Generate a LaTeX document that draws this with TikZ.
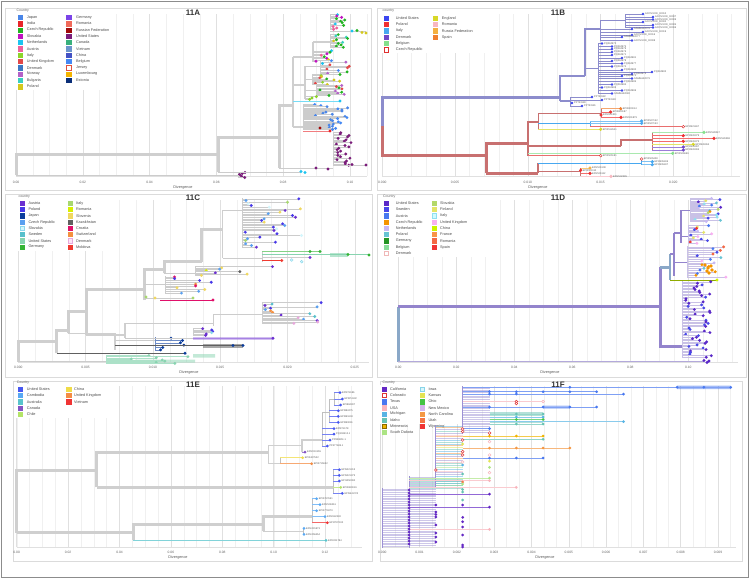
\documentclass[tikz,border=0pt]{standalone}
\usepackage{fontspec}
\setmainfont{Liberation Sans}
% ---- colours of 11A
\definecolor{aJapan}{HTML}{4A86E8}\definecolor{aIndia}{HTML}{E8262A}
\definecolor{aCzech}{HTML}{22B522}\definecolor{aSlovakia}{HTML}{C012C0}
\definecolor{aNetherlands}{HTML}{1CC4F0}\definecolor{aAustria}{HTML}{F0609A}
\definecolor{aItaly}{HTML}{8CD42A}\definecolor{aUK}{HTML}{E24848}
\definecolor{aDenmark}{HTML}{3B78C4}\definecolor{aNorway}{HTML}{B462C8}
\definecolor{aBulgaria}{HTML}{38D0C0}\definecolor{aPoland}{HTML}{D4C81E}
\definecolor{aGermany}{HTML}{7B44E8}\definecolor{aRomania}{HTML}{F06A5A}
\definecolor{aRussia}{HTML}{A00A0A}\definecolor{aUSA}{HTML}{7A1C7A}
\definecolor{aCanada}{HTML}{38B07C}\definecolor{aVietnam}{HTML}{6C94CC}
\definecolor{aChina}{HTML}{4452C4}\definecolor{aBelgium}{HTML}{4488F4}
\definecolor{aJersey}{HTML}{E05040}\definecolor{aLuxembourg}{HTML}{F4B400}
\definecolor{aEstonia}{HTML}{0A2E78}
% ---- colours of 11B
\definecolor{bUSA}{HTML}{3C46F0}\definecolor{bPoland}{HTML}{F03030}
\definecolor{bItaly}{HTML}{48A8F0}\definecolor{bDenmark}{HTML}{7048C8}
\definecolor{bBelgium}{HTML}{84E08C}\definecolor{bCzech}{HTML}{E03030}
\definecolor{bEngland}{HTML}{D8D828}\definecolor{bRomania}{HTML}{F8B8C0}
\definecolor{bRussia}{HTML}{F4B040}\definecolor{bSpain}{HTML}{F08030}
\definecolor{bTrunkP}{HTML}{8C8CCC}\definecolor{bTrunkR}{HTML}{C87070}
% ---- colours of 11C
\definecolor{cAustria}{HTML}{6A2ED0}\definecolor{cPoland}{HTML}{4838E8}
\definecolor{cJapan}{HTML}{0A3C9C}\definecolor{cCzech}{HTML}{5AA0F0}
\definecolor{cSlovakia}{HTML}{D4F6FC}\definecolor{cSlovakiaD}{HTML}{8CD8EC}
\definecolor{cSweden}{HTML}{58C0CC}\definecolor{cUSA}{HTML}{88D4B0}
\definecolor{cGermany}{HTML}{34B434}\definecolor{cItaly}{HTML}{A8D870}
\definecolor{cRomania}{HTML}{D8F000}\definecolor{cSlovenia}{HTML}{F0D860}
\definecolor{cKazakh}{HTML}{606060}\definecolor{cCroatia}{HTML}{E0106A}
\definecolor{cSwitz}{HTML}{F49040}\definecolor{cDenmark}{HTML}{FBE4F6}
\definecolor{cDenmarkD}{HTML}{E8A8DC}\definecolor{cMoldova}{HTML}{F03A30}
% ---- colours of 11D
\definecolor{dUSA}{HTML}{5A28C8}\definecolor{dSweden}{HTML}{4848E8}
\definecolor{dAustria}{HTML}{4878F0}\definecolor{dCzech}{HTML}{F49400}
\definecolor{dNetherlands}{HTML}{C8B8F4}\definecolor{dPoland}{HTML}{68C4D4}
\definecolor{dGermany}{HTML}{249424}\definecolor{dBelgium}{HTML}{88DC98}
\definecolor{dDenmark}{HTML}{F0B8B8}\definecolor{dSlovakia}{HTML}{B4D868}
\definecolor{dFinland}{HTML}{E4E468}\definecolor{dItaly}{HTML}{D0FAFF}
\definecolor{dItalyD}{HTML}{90E0F0}\definecolor{dUK}{HTML}{F8B0F0}
\definecolor{dChina}{HTML}{CCF400}\definecolor{dFrance}{HTML}{F89448}
\definecolor{dRomania}{HTML}{F46844}\definecolor{dSpain}{HTML}{F03434}
\definecolor{dTrunk}{HTML}{9384CC}\definecolor{dStem}{HTML}{8AA8C8}
% ---- colours of 11E
\definecolor{eUSA}{HTML}{4858F0}\definecolor{eCambodia}{HTML}{58A8F4}
\definecolor{eAustralia}{HTML}{58C4CC}\definecolor{eCanada}{HTML}{8454C4}
\definecolor{eChile}{HTML}{B4E468}\definecolor{eChina}{HTML}{F0DC48}
\definecolor{eUK}{HTML}{F48C44}\definecolor{eVietnam}{HTML}{F03434}
% ---- colours of 11F
\definecolor{fCalifornia}{HTML}{6428C4}\definecolor{fColorado}{HTML}{E03838}
\definecolor{fTexas}{HTML}{4878F0}\definecolor{fUSA}{HTML}{F8B4BC}
\definecolor{fMichigan}{HTML}{58B4E4}\definecolor{fIdaho}{HTML}{68C4B4}
\definecolor{fMinnesota}{HTML}{F0B400}\definecolor{fMinnesotaD}{HTML}{8A6A00}
\definecolor{fSouthDakota}{HTML}{ACE484}\definecolor{fIowa}{HTML}{D8F6FC}
\definecolor{fIowaD}{HTML}{88D4E8}\definecolor{fKansas}{HTML}{E4E454}
\definecolor{fOhio}{HTML}{44C444}\definecolor{fNewMexico}{HTML}{D4B4EC}
\definecolor{fNorthCarolina}{HTML}{F49844}\definecolor{fUtah}{HTML}{F47444}
\definecolor{fWyoming}{HTML}{F03434}\definecolor{fBand}{HTML}{9C90D4}

\tikzset{
  panelframe/.style={draw=black!14, line width=0.6pt},
  gmaj/.style={draw=black!12, line width=0.45pt},
  gmin/.style={draw=black!6, line width=0.4pt},
  ticklab/.style={font=\fontsize{3.3}{4}\selectfont, text=black!60, inner sep=0pt},
  axlab/.style={font=\fontsize{3.8}{4.5}\selectfont, text=black!65, inner sep=0pt},
  ptitle/.style={font=\bfseries\fontsize{8}{9}\selectfont, text=black!80, inner sep=0pt},
  leghead/.style={font=\fontsize{3.5}{4}\selectfont, text=black!60, anchor=west, inner sep=0pt},
  legtext/.style={font=\fontsize{3.8}{4.3}\selectfont, text=black!70, anchor=west, inner sep=0pt},
  trunk/.style={line width=3pt, draw=black!19},
  midline/.style={line width=1.5pt, draw=black!19},
  twig/.style={line width=0.45pt, draw=black!20},
  tiplab/.style={font=\fontsize{2.5}{3}\selectfont, text=black!65, anchor=west, inner sep=0.8pt},
  fband/.style={draw=fBand, line width=0.9pt, opacity=0.5},
  fstem/.style={draw=fBand, line width=1.1pt},
}

\pgfmathdeclarerandomlist{aTopA}{{aCzech}{aCzech}{aCzech}{aAustria}{aPoland}{aNetherlands}{aSlovakia}{aItaly}}
\pgfmathdeclarerandomlist{aTopB}{{aCzech}{aCzech}{aSlovakia}{aPoland}{aNetherlands}{aItaly}{aBulgaria}}
\pgfmathdeclarerandomlist{aTopC}{{aSlovakia}{aCzech}{aRussia}{aNetherlands}{aAustria}{aPoland}{aBulgaria}}
\pgfmathdeclarerandomlist{aMidA}{{aNetherlands}{aBelgium}{aUK}{aSlovakia}{aPoland}{aCzech}{aNorway}{aIndia}}
\pgfmathdeclarerandomlist{aMidB}{{aJapan}{aPoland}{aCzech}{aItaly}{aUK}{aBelgium}}
\pgfmathdeclarerandomlist{aMidC}{{aUK}{aIndia}{aCzech}{aPoland}{aRomania}{aNorway}}
\pgfmathdeclarerandomlist{aMidD}{{aCzech}{aSlovakia}{aItaly}}
\pgfmathdeclarerandomlist{aBl}{{aJapan}{aJapan}{aBelgium}}
\pgfmathdeclarerandomlist{aPu}{{aUSA}}
\pgfmathdeclarerandomlist{cL1}{{cAustria}{cAustria}{cPoland}{cCzech}{cItaly}{cSlovakia}{cSlovenia}{cPoland}}
\pgfmathdeclarerandomlist{cL2}{{cRomania}{cKazakh}{cCzech}{cSlovenia}{cAustria}}
\pgfmathdeclarerandomlist{cL3}{{cPoland}{cCroatia}{cSlovenia}{cSlovenia}{cCzech}{cSwitz}}
\pgfmathdeclarerandomlist{cL4}{{cSweden}{cSweden}{cPoland}{cAustria}{cCzech}{cSwitz}{cDenmarkD}}
\pgfmathdeclarerandomlist{cL5}{{cAustria}{cPoland}{cSlovakiaD}}
\pgfmathdeclarerandomlist{cL6}{{cJapan}}
\pgfmathdeclarerandomlist{cL7}{{cUSA}}
\pgfmathdeclarerandomlist{dL1}{{dUSA}{dSweden}{dAustria}{dAustria}{dPoland}{dNetherlands}{dItalyD}{dFinland}{dSlovakia}{dUK}{dCzech}}
\pgfmathdeclarerandomlist{dL2}{{dSweden}{dAustria}{dNetherlands}{dGermany}{dSpain}{dUK}{dPoland}{dFinland}}
\pgfmathdeclarerandomlist{dL3}{{dSweden}{dAustria}{dNetherlands}{dPoland}{dCzech}{dRomania}{dUK}}
\pgfmathdeclarerandomlist{dPu}{{dUSA}{dUSA}{dUSA}{dSweden}}
\pgfmathdeclarerandomlist{fMix}{{fBand}{fBand}{fSouthDakota}{fIdaho}{fUSA}{fKansas}{fNorthCarolina}{fMichigan}}

% legend column: swatch x, text x, first y, step, list fill/draw/text
\newcommand\legcol[5]{%
  \foreach \fil/\drw/\txt [count=\i from 0] in {#5}{%
    \filldraw[fill=\fil, draw=\drw, line width=0.5pt]
      (#1-2.15,#3+#4*\i-2.15) rectangle (#1+2.15,#3+#4*\i+2.15);
    \node[legtext] at (#2,#3+#4*\i) {\txt};}}
% a bundle of tips: colour list, stem x, y top, y bottom, x min, x max, tips, branch colour
\newcommand\clade[8]{%
  \draw[twig, draw=#8] (#2,#3) -- (#2,#4);
  \foreach \k in {1,...,#7}{%
    \pgfmathsetmacro\yy{#3+(\k-0.5)*(#4-#3)/#7}%
    \pgfmathsetmacro\xx{#5+rnd*(#6-#5)}%
    \pgfmathrandomitem{\tc}{#1}%
    \draw[twig, draw=#8] (#2,\yy) -- (\xx,\yy);
    \fill[\tc] (\xx,\yy) circle (1.6);}}
\newcommand\fc[1]{382.3+26.8*#1}

\begin{document}
\begin{tikzpicture}[x=1pt,y=-1pt]
\pgfmathsetseed{11}
\useasboundingbox (0,0) rectangle (750,579);
\fill[white] (0,0) rectangle (750,579);
\draw[black!45, line width=0.7pt] (1.5,1) rectangle (748.5,577.5);

% ================= 11A =================
\draw[panelframe] (5,8) rectangle (371,190);
\foreach \k in {0,...,21} \draw[gmin] (16+16.7*\k,14) -- (16+16.7*\k,176);
\foreach \t [count=\i from 0] in {0.00,0.02,0.04,0.06,0.08,0.10}{
  \draw[gmaj] (16+66.8*\i,14) -- (16+66.8*\i,176);
  \node[ticklab] at (16+66.8*\i,182) {\t};}
\draw[gmaj] (16,176) -- (367,176);
\node[axlab] at (183,187.3) {Divergence};
\node[ptitle] at (193,12.7) {11A};
\fill[white] (14,9) rectangle (112,90);
\node[leghead] at (16.5,10.7) {Country};
\legcol{20.5}{26.7}{17.3}{6.3}{aJapan/aJapan/Japan, aIndia/aIndia/India, aCzech/aCzech/Czech Republic,
  aSlovakia/aSlovakia/Slovakia, aNetherlands/aNetherlands/Netherlands, aAustria/aAustria/Austria,
  aItaly/aItaly/Italy, aUK/aUK/United Kingdom, aDenmark/aDenmark/Denmark, aNorway/aNorway/Norway,
  aBulgaria/aBulgaria/Bulgaria, aPoland/aPoland/Poland}
\legcol{68.8}{76}{17.3}{6.3}{aGermany/aGermany/Germany, aRomania/aRomania/Romania,
  aRussia/aRussia/Russian Federation, aUSA/aUSA/United States, aCanada/aCanada/Canada,
  aVietnam/aVietnam/Vietnam, aChina/aChina/China, aBelgium/aBelgium/Belgium, white/aJersey/Jersey,
  aLuxembourg/aLuxembourg/Luxembourg, aEstonia/aEstonia/Estonia}
% tree
\draw[trunk] (16,175) -- (16,154) -- (218,154);
\draw[twig] (16,175) -- (238,175);
\clade{aPu}{238}{172}{178}{239}{248}{6}{black!20}
\draw[trunk] (218,172) -- (218,137) -- (279,137);
\draw[twig] (218,172) -- (301,172);
\fill[aNetherlands] (301,171.5) circle (1.6) (305,172.5) circle (1.6);
\draw[trunk] (279,168) -- (279,105) -- (293,105);
\draw[midline] (293,57) -- (293,127);
\draw[twig] (279,168) -- (333,168);
\clade{aPu}{333}{132}{166}{335}{352}{24}{black!20}
\draw[twig] (333,165) -- (366,165);
\fill[aUSA] (316,168) circle (1.6) (328,169) circle (1.6) (352,164.5) circle (1.6) (366,165) circle (1.6);
\draw[midline] (293,57) -- (313,57);
\draw[midline] (313,42) -- (313,62);
\draw[midline] (313,42) -- (330,42);
\clade{aTopA}{330}{14}{30}{333}{348}{12}{black!20}
\draw[twig] (330,31.5) -- (366,31.5);
\fill[aNetherlands] (352,31) circle (1.6); \fill[aCzech] (357,30.5) circle (1.6);
\fill[aPoland] (362,32.5) circle (1.6) (366,33) circle (1.6);
\clade{aTopB}{330}{34}{48}{333}{350}{11}{black!20}
\clade{aTopC}{313}{50}{62}{316}{332}{8}{black!20}
\draw[midline] (293,85) -- (305,85);
\draw[midline] (305,66) -- (305,99);
\draw[twig] (305,66) -- (320,66);
\clade{aMidA}{320}{60}{74}{322}{350}{10}{black!20}
\draw[twig] (305,79) -- (312,79);
\clade{aMidB}{312}{74}{85}{315}{346}{10}{black!20}
\draw[twig] (305,90) -- (316,90);
\clade{aMidC}{316}{85}{96}{319}{350}{10}{black!20}
\clade{aMidD}{305}{96}{100}{307}{318}{3}{black!20}
\draw[twig, draw=aNetherlands!60] (293,101) -- (340,101);
\fill[aNetherlands] (340,101) circle (1.6);
\draw[midline] (293,127) -- (303,127);
\clade{aBl}{303}{104}{130}{312}{348}{24}{black!20}
\draw[twig, draw=aIndia!60] (303,131) -- (330,131);
\fill[aRussia] (320,128) circle (1.6); \fill[aIndia] (330,131) circle (1.6);

% ================= 11B =================
\draw[panelframe] (377,8) rectangle (746,190);
\foreach \k in {0,...,24} \draw[gmin] (382.3+14.55*\k,14) -- (382.3+14.55*\k,176);
\foreach \t [count=\i from 0] in {0.000,0.005,0.010,0.015,0.020}{
  \draw[gmaj] (382.3+72.75*\i,14) -- (382.3+72.75*\i,176);
  \node[ticklab] at (382.3+72.75*\i,182) {\t};}
\draw[gmaj] (382.3,176) -- (740,176);
\node[axlab] at (538,187.3) {Divergence};
\node[ptitle] at (558,12.7) {11B};
\fill[white] (380,9) rectangle (490,53);
\node[leghead] at (382.5,10.7) {country};
\legcol{386}{395.7}{18.3}{6.27}{bUSA/bUSA/United States, bPoland/bPoland/Poland, bItaly/bItaly/Italy,
  bDenmark/bDenmark/Denmark, bBelgium/bBelgium/Belgium, white/bCzech/Czech Republic}
\legcol{435}{441.7}{18.3}{6.27}{bEngland/bEngland/England, bRomania/bRomania/Romania,
  bRussia/bRussia/Russia Federation, bSpain/bSpain/Spain}
% tree
\draw[trunk, draw=bTrunkP] (382.3,126) -- (382.3,97) -- (560,97);
\draw[trunk, draw=bTrunkR] (382.3,126) -- (382.3,155) -- (486,155);
\draw[trunk, draw=bTrunkP, line width=1.8pt] (560,101) -- (560,76) -- (585,76);
\draw[midline, draw=bTrunkP] (585,76) -- (585,29) -- (600,29);
\draw[twig, draw=bTrunkP, line width=1pt] (600,20) -- (600,40.5) (600,20) -- (625,20) (625,14) -- (625,27.5);
\draw[twig, draw=bTrunkP, line width=1pt] (585,68) -- (598,68) (598,43.5) -- (598,93.5);
\draw[midline, draw=bTrunkP] (560,101) -- (570,101);
\draw[twig, draw=bTrunkP, line width=1pt] (570,97) -- (570,106);
\foreach \p/\x/\y/\l in {625/643/14/ACOV1000\_00010, 625/653/17/ACOV1000\_00007,
  625/653/19.5/ACOV1000\_00009, 625/643/22/ACOV1000\_00002, 625/653/25/ACOV1000\_00005,
  625/653/27.5/ACOV1000\_00006, 600/632/29/SAMEA42076, 600/643/32/ACOV1000\_00019,
  600/632/35/ACOV1000\_00016, 600/622/37/SAMEA42077, 600/632/40.5/ACOV1000\_00008,
  598/602/43.5/PQ034970, 598/612/46.5/PQ034975, 598/612/49/PQ034979, 598/612/52/PQ034976,
  598/612/55/PQ034971, 598/622/58/PQ034981, 598/612/61/PQ034978, 598/622/63.5/PQ034977,
  598/612/66.5/PQ034974, 598/622/70/PQ034980, 598/652/72/PQ034982, 598/632/74/PQ034973,
  598/622/76/PQ034972, 598/632/78.5/SAMEA42079, 598/622/81.5/PQ034985, 598/612/84.5/PQ034984,
  598/602/87.5/PQ034983, 598/622/90.5/PQ034986, 598/612/93.5/SAMEA42080,
  570/592/97/PP733182, 570/602/100/PP733183, 570/572/103/PP733180, 570/582/106/PP733181}{
  \draw[twig, draw=bTrunkP, line width=0.6pt] (\p,\y) -- (\x,\y);
  \fill[bUSA] (\x,\y) circle (1.4);
  \node[tiplab] at (\x+1.2,\y) {\l};}
\draw[trunk, draw=bTrunkR] (486,173) -- (486,143) -- (528,143);
\draw[midline, draw=bTrunkR] (528,156) -- (528,122) -- (538,122);
\draw[twig, draw=bTrunkR, line width=1pt] (538,113) -- (538,129.3);
\draw[twig, draw=bTrunkR, line width=0.6pt] (538,113) -- (601,113) (601,108.7) -- (601,117.3);
\draw[twig, draw=bItaly, line width=0.6pt] (538,123) -- (590,123) (590,121) -- (590,126.7);
\draw[trunk, draw=bTrunkR, line width=2pt] (528,146) -- (621,146);
\draw[midline, draw=bTrunkR] (621,146) -- (621,140) -- (652,140);
\draw[twig, draw=bTrunkR, line width=1pt] (652,132.3) -- (652,150);
\draw[trunk, draw=bTrunkR] (486,173) -- (538,173);
\draw[midline, draw=bTrunkR] (538,163) -- (538,173);
\draw[twig, draw=bItaly, line width=0.6pt] (538,163) -- (641.7,163) (641.7,159) -- (641.7,164.7);
\draw[twig, draw=bTrunkR, line width=0.6pt] (538,171) -- (580.7,171) (580.7,168) -- (580.7,176.3);
\foreach \p/\x/\y/\c/\f/\l in {601/620.7/108.7/bSpain/bSpain/EPI2800014,
  601/610.7/112/bPoland/bPoland/EPI2800187, 601/601/115/bPoland/bPoland/EPI2801311,
  601/621/117.3/bPoland/bPoland/EPI2801879, 590/641.7/121/bItaly/bItaly/EPI2527152,
  590/641.7/123.3/bItaly/bItaly/EPI2527153, 590/683.3/126.7/bCzech/white/EPI2521467,
  538/600.7/129.3/bEngland/bEngland/EPI2512641, 652/704/132.3/bBelgium/bBelgium/EPI2528047,
  652/683.3/135.7/bPoland/bPoland/EPI2526379, 652/714/138.3/bPoland/bPoland/EPI2526368,
  652/683.3/141.3/bPoland/bPoland/EPI2526373, 652/693.3/144.3/bEngland/bEngland/EPI2526364,
  652/683.3/147/bDenmark/bDenmark/EPI2526367, 652/683.3/150/bDenmark/bDenmark/EPI2526365,
  528/672.7/153.3/bBelgium/bBelgium/EPI2526666, 528/600.7/155.7/bCzech/white/EPI2505181,
  641.7/641.7/159/bCzech/white/EPI2505408, 641.7/652.3/161.7/bItaly/bItaly/EPI2505406,
  641.7/652.3/164.7/bItaly/bItaly/EPI2505407, 580.7/590/168/bRussia/bRussia/EPI2501108,
  580.7/580.7/170.3/bPoland/bPoland/EPI2501110, 580.7/590/173.3/bPoland/bPoland/EPI2501112,
  580.7/611/176.3/bRomania/bRomania/EPI2502295}{
  \draw[twig, draw=\c!70, line width=0.6pt] (\p,\y) -- (\x,\y);
  \filldraw[fill=\f, draw=\c, line width=0.45pt] (\x,\y) circle (1.4);
  \node[tiplab] at (\x+1.2,\y) {\l};}

% ================= 11C =================
\draw[panelframe] (5,194) rectangle (372,377);
\foreach \k in {0,...,20} \draw[gmin] (18.3+16.83*\k,200) -- (18.3+16.83*\k,362);
\foreach \t [count=\i from 0] in {0.000,0.005,0.010,0.015,0.020,0.025}{
  \draw[gmaj] (18.3+67.3*\i,200) -- (18.3+67.3*\i,362);
  \node[ticklab] at (18.3+67.3*\i,367.7) {\t};}
\draw[gmaj] (18.3,362) -- (369,362);
\node[axlab] at (189,372.7) {Divergence};
\node[ptitle] at (193,198) {11C};
\fill[white] (14,199) rectangle (112,251);
\node[leghead] at (18.3,196.5) {country};
\legcol{22}{28.3}{203.3}{6.25}{cAustria/cAustria/Austria, cPoland/cPoland/Poland, cJapan/cJapan/Japan,
  cCzech/cCzech/Czech Republic, cSlovakia/cSlovakiaD/Slovakia, cSweden/cSweden/Sweden,
  cUSA/cUSA/United States, cGermany/cGermany/Germany}
\legcol{70}{76}{203.3}{6.25}{cItaly/cItaly/Italy, cRomania/cRomania/Romania, cSlovenia/cSlovenia/Slovenia,
  cKazakh/cKazakh/Kazakhstan, cCroatia/cCroatia/Croatia, cSwitz/cSwitz/Switzerland,
  cDenmark/cDenmarkD/Denmark, cMoldova/cMoldova/Moldova}
% tree
\draw[trunk] (18.3,361.7) -- (18.3,341.7) -- (56.7,341.7);
\draw[twig] (18.3,361.7) -- (106.7,361.7);
\fill[cUSA, opacity=0.5] (193,354) rectangle (215,357.5) (135,359.5) rectangle (195,362.5);
\clade{cL7}{106.7}{355}{364}{130}{215}{8}{cUSA!70}
\draw[trunk] (56.7,353.3) -- (56.7,330) -- (68.3,330);
\draw[twig, draw=cKazakh, line width=0.8pt] (56.7,353.3) -- (185,353.3);
\fill[cJapan] (185,353.3) circle (1.6);
\draw[trunk] (68.3,333.3) -- (68.3,311.7) -- (86,311.7);
\draw[midline] (68.3,333.3) -- (115,333.3) -- (115,350);
\draw[twig] (115,340) -- (155,340);
\clade{cL6}{155}{337}{351}{158}{186}{6}{cJapan!60}
\fill[cKazakh, opacity=0.55] (203,343.5) rectangle (243,347.5);
\draw[twig, draw=cKazakh] (115,345.5) -- (243,345.5);
\fill[cJapan] (233,345.5) circle (1.6) (243,345.5) circle (1.6);
\draw[trunk] (86,335) -- (86,289.3) -- (144,289.3);
\draw[trunk] (144,300) -- (144,269) -- (164.3,269);
\draw[trunk] (164.3,273.3) -- (164.3,261.7) -- (201.7,261.7);
\draw[trunk] (201.7,261.7) -- (201.7,229.3) -- (222.7,229.3);
\draw[midline] (222.7,210) -- (222.7,258);
\draw[twig] (222.7,210) -- (242,210);
\clade{cL1}{242}{198}{248}{245}{302}{30}{black!20}
\draw[twig] (222.7,258) -- (262,258) (262,251.5) -- (262,261.7);
\draw[twig, draw=cGermany!60] (262,251.5) -- (320,251.5);
\fill[cUSA, opacity=0.6] (330,252.5) rectangle (348,256.5);
\draw[twig, draw=cUSA] (262,254.5) -- (369,254.5);
\fill[cGermany] (310,251.5) circle (1.6) (320,251.5) circle (1.6) (348,254.5) circle (1.6) (369,255) circle (1.6);
\draw[twig] (262,257.5) -- (310,257.5);
\fill[cAustria] (310,257.5) circle (1.6);
\draw[twig, draw=cMoldova] (262,260.5) -- (281.7,260.5);
\fill[cMoldova] (281.7,260.5) circle (1.6);
\filldraw[fill=cSlovakia, draw=cSlovakiaD, line width=0.45pt] (291.7,260) circle (1.4) (301.7,261.7) circle (1.4);
\draw[twig] (164.3,273.3) -- (195,273.3);
\clade{cL2}{195}{266}{276}{198}{276}{8}{black!20}
\draw[twig] (144,284) -- (165,284);
\clade{cL3}{165}{276}{294}{172}{214}{10}{black!20}
\draw[twig] (144,298) -- (193,298);
\draw[twig, draw=cCroatia] (160,300) -- (213,300);
\fill[cItaly] (146,297) circle (1.6) (193,298) circle (1.6);
\fill[cSlovenia] (155,298) circle (1.6); \fill[cCroatia] (213,300) circle (1.6);
\draw[midline] (86,335) -- (125,335);
\draw[midline] (125,323.3) -- (125,338.3);
\draw[twig] (125,323.3) -- (213,323.3) (213,314) -- (213,326) (213,314) -- (262,314);
\clade{cL4}{262}{302}{324}{265}{322}{16}{black!20}
\draw[twig] (125,338.3) -- (193,338.3);
\clade{cL5}{193}{328}{336}{195}{214}{6}{black!20}
\fill[cAustria, opacity=0.3] (193,336.6) rectangle (273,340);
\draw[twig, draw=cAustria!60] (193,338.3) -- (273,338.3);
\fill[cAustria] (273,338.3) circle (1.6);

% ================= 11D =================
\draw[panelframe] (377,194) rectangle (746,377);
\foreach \k in {0,...,23} \draw[gmin] (398.3+14.5*\k,200) -- (398.3+14.5*\k,362);
\foreach \t [count=\i from 0] in {0.00,0.02,0.04,0.06,0.08,0.10}{
  \draw[gmaj] (398.3+58*\i,200) -- (398.3+58*\i,362);
  \node[ticklab] at (398.3+58*\i,367.7) {\t};}
\draw[gmaj] (398.3,362) -- (738,362);
\node[axlab] at (550,372.7) {Divergence};
\node[ptitle] at (558,198) {11D};
\fill[white] (380,199) rectangle (486,257);
\node[leghead] at (383,196.5) {Country};
\legcol{386}{395.7}{203.3}{6.25}{dUSA/dUSA/United States, dSweden/dSweden/Sweden, dAustria/dAustria/Austria,
  dCzech/dCzech/Czech Republic, dNetherlands/dNetherlands/Netherlands, dPoland/dPoland/Poland,
  dGermany/dGermany/Germany, dBelgium/dBelgium/Belgium, white/dDenmark/Denmark}
\legcol{434.5}{440}{203.3}{6.25}{dSlovakia/dSlovakia/Slovakia, dFinland/dFinland/Finland,
  dItaly/dItalyD/Italy, dUK/dUK/United Kingdom, dChina/dChina/China, dFrance/dFrance/France,
  dRomania/dRomania/Romania, dSpain/dSpain/Spain}
% tree
\draw[trunk, draw=dStem] (398.3,361.7) -- (398.3,306.7);
\draw[trunk, draw=dTrunk] (398.3,306.7) -- (660,306.7);
\draw[twig, draw=dTrunk!70] (398.3,361.7) -- (704,361.7);
\fill[dUSA] (704,360.5) circle (1.6) (707,362.5) circle (1.6) (709,361) circle (1.6);
\draw[trunk, draw=dTrunk] (660,267) -- (660,346.7) -- (682,346.7);
\draw[trunk, draw=dStem] (660,267) -- (670,267);
\draw[midline, draw=dStem] (670,254) -- (670,280);
\draw[twig, draw=dChina!70!black] (670,280) -- (717,280);
\fill[dChina] (717,280) circle (1.6);
\draw[midline, draw=dTrunk] (670,254) -- (674,254) (674,233) -- (674,276) (674,233) -- (681,233) (681,210) -- (681,243);
\draw[twig, draw=dTrunk] (681,210) -- (690,210);
\clade{dL1}{690}{198}{222}{694}{725}{22}{dTrunk!50}
\draw[twig, draw=dTrunk] (681,236) -- (688,236);
\clade{dL2}{688}{225}{244}{690}{712}{14}{dTrunk!50}
\draw[twig, draw=dTrunk] (674,262) -- (687,262);
\clade{dL3}{687}{246}{278}{690}{735}{18}{dTrunk!50}
\foreach \x/\y in {705/265,708/268,711/266,707/271,712/270,709/273}
  \fill[dCzech] (\x,\y) circle (1.9);
\clade{dPu}{682}{281}{358}{685}{712}{50}{dTrunk!50}

% ================= 11E =================
\draw[panelframe] (13,381) rectangle (372,561);
\foreach \k in {0,...,26} \draw[gmin] (16.7+12.85*\k,386) -- (16.7+12.85*\k,547);
\foreach \t [count=\i from 0] in {0.00,0.02,0.04,0.06,0.08,0.10,0.12}{
  \draw[gmaj] (16.7+51.4*\i,386) -- (16.7+51.4*\i,547);
  \node[ticklab] at (16.7+51.4*\i,552.7) {\t};}
\draw[gmaj] (16.7,547) -- (362,547);
\node[axlab] at (178,557.7) {Divergence};
\node[ptitle] at (193,384.5) {11E};
\fill[white] (14,385) rectangle (112,418);
\node[leghead] at (16.7,382.7) {Country};
\legcol{20.5}{26.7}{389.3}{6.25}{eUSA/eUSA/United States, eCambodia/eCambodia/Cambodia,
  eAustralia/eAustralia/Australia, eCanada/eCanada/Canada, eChile/eChile/Chile}
\legcol{68.8}{74}{389.3}{6.25}{eChina/eChina/China, eUK/eUK/United Kingdom, eVietnam/eVietnam/Vietnam}
% tree
\draw[trunk] (16.7,532.7) -- (16.7,470) -- (96.7,470);
\draw[trunk] (96.7,487.3) -- (96.7,452) -- (268.3,452);
\draw[trunk] (96.7,487.3) -- (333,487.3);
\draw[midline] (268.3,463.7) -- (268.3,445.7) -- (302,445.7);
\draw[midline] (302,452) -- (302,440) -- (322,440);
\draw[twig, draw=black!25, line width=1pt] (322,412) -- (322,446) (322,412) -- (329,412) (329,399) -- (329,422.3) (329,399) -- (334,399) (334,392.7) -- (334,405);
\draw[midline] (268.3,463.7) -- (280,463.7);
\draw[twig, draw=black!25, line width=1pt] (280,457.7) -- (280,463.7) (333,469.7) -- (333,493.3);
\draw[trunk] (16.7,532.7) -- (133.3,532.7);
\draw[trunk] (133.3,540.3) -- (133.3,524) -- (263.3,524);
\draw[trunk] (263.3,531.3) -- (263.3,516) -- (312,516);
\draw[midline] (263.3,531.3) -- (303,531.3);
\draw[twig, draw=black!25, line width=1pt] (312,498.7) -- (312,522.7) (303,528.3) -- (303,534.3);
\foreach \p/\x/\y/\c/\l in {334/340/392.7/eUSA/EPI874186, 334/342.3/399/eUSA/EPI874132,
  334/340.7/405/eUSA/EPI884307, 329/338.3/410.7/eUSA/EPI882475, 329/338.3/416.3/eUSA/EPI891603,
  329/338.3/422.3/eUSA/EPI890091, 322/334/428.7/eUSA/EPI874178, 322/334/434/eUSA/PQ106510.1,
  322/330/440/eUSA/PP836851.1, 322/327.3/446/eUSA/PP477845.1, 302/305/452/eCanada/EPI2010155,
  280/302.7/457.7/eChina/EPI2407502, 280/311.7/463.7/eUK/EPI2715622,
  333/339.3/469.7/eUSA/EPI5021313, 333/339.3/475.3/eUSA/EPI5021373, 333/339.3/481/eUSA/EPI1050090,
  333/340.7/487.3/eChile/EPI2680016, 333/342.3/493.3/eUSA/EPI5541722,
  312/316.7/498.7/eCambodia/EPI2767661, 312/320/504.7/eCambodia/EPI2506261,
  312/316.7/510.7/eCambodia/EPI2773470, 312/325/516.7/eCambodia/EPI2642230,
  312/327.3/522.7/eVietnam/EPI2787100, 303/304/528.3/eCambodia/EPI2415973,
  303/304/534.3/eCambodia/EPI2456454, 133.3/326/540.3/eAustralia/EPI3211784}{
  \draw[twig, draw=\c!75, line width=0.7pt] (\p,\y) -- (\x,\y);
  \fill[\c] (\x,\y) circle (1.5);
  \node[tiplab] at (\x+1.2,\y) {\l};}

% ================= 11F =================
\draw[panelframe] (380,381) rectangle (742,561);
\foreach \k in {0,...,28} \draw[gmin] (382.3+12.43*\k,386) -- (382.3+12.43*\k,547);
\foreach \t [count=\i from 0] in {0.000,0.001,0.002,0.003,0.004,0.005,0.006,0.007,0.008,0.009}{
  \draw[gmaj] (382.3+37.3*\i,386) -- (382.3+37.3*\i,547);
  \node[ticklab] at (382.3+37.3*\i,552.7) {\t};}
\draw[gmaj] (382.3,547) -- (736,547);
\node[axlab] at (545,557.7) {Divergence};
\node[ptitle] at (558,384.5) {11F};
\fill[white] (380,385) rectangle (472,424);
\node[leghead] at (382.3,382.7) {Country};
\legcol{384.5}{390}{389.3}{6.15}{fCalifornia/fCalifornia/California, white/fColorado/Colorado,
  fTexas/fTexas/Texas, fUSA/fUSA/USA, fMichigan/fMichigan/Michigan, fIdaho/fIdaho/Idaho,
  fMinnesota/fMinnesotaD/Minnesota, fSouthDakota/fSouthDakota/South Dakota}
\legcol{422.5}{428.3}{389.3}{6.15}{fIowa/fIowaD/Iowa, fKansas/fKansas/Kansas, fOhio/fOhio/Ohio,
  fNewMexico/fNewMexico/New Mexico, fNorthCarolina/fNorthCarolina/North Carolina,
  fUtah/fUtah/Utah, fWyoming/fWyoming/Wyoming}
% tree
\foreach \y in {489,490.8,...,547} \draw[fband] (\fc{0},\y) -- (\fc{1},\y);
\foreach \y in {477,478.8,...,547} \draw[fband] (\fc{1},\y) -- (\fc{2},\y);
\foreach \y in {426,427.8,...,488}{\pgfmathrandomitem{\tc}{fMix}\draw[fband, draw=\tc] (\fc{2},\y) -- (\fc{3},\y);}
\foreach \y in {387,388.8,...,433} \draw[fband] (\fc{3},\y) -- (\fc{4},\y);
\foreach \y in {412,413.8,...,426} \draw[fband, draw=fIdaho] (\fc{4},\y) -- (\fc{6},\y);
\foreach \y in {478,479.8,...,490} \draw[fband, draw=fIdaho] (\fc{1},\y) -- (\fc{3},\y);
\fill[fTexas, opacity=0.5] (\fc{11},385.6) rectangle (\fc{13},389) (\fc{6},405.5) rectangle (\fc{7},408.5);
\foreach \x/\a/\b in {0/488/548, 1/476/548, 2/425/488, 3/386/434}
  \draw[fstem] (\fc{\x},\a) -- (\fc{\x},\b);
\foreach \y/\a/\b/\c in {387.3/3/13/fTexas, 391.7/3/8/fTexas, 394/3/9/fTexas, 401.5/3/6/fUSA,
  407/3/8/fTexas, 414/4/6/fIdaho, 417/4/6/fMichigan, 419.5/4/6/fOhio, 421.7/4/9/fMichigan,
  424/4/6/fIdaho, 428.5/3/4/fTexas, 436/3/6/fMinnesota, 439.3/3/6/fIdaho, 448/3/7/fNorthCarolina,
  458/3/6/fTexas, 478/1/4/fSouthDakota, 480.5/1/4/fUSA, 487.3/1/5/fUSA, 494/1/4/fCalifornia,
  507/1/4/fCalifornia, 529.3/1/4/fUSA}{
  \draw[twig, draw=\c!70, line width=0.6pt] (\fc{\a},\y) -- (\fc{\b},\y);
  \fill[\c] (\fc{\b},\y) circle (1.5);}
\foreach \y/\k/\c in {391.7/4/fTexas, 391.7/5/fTexas, 391.7/6/fTexas, 391.7/7/fTexas,
  387.3/7/fTexas, 387.3/11/fTexas, 387.3/12/fTexas, 394/4/fTexas, 394/5/fTexas, 407/4/fTexas,
  407/6/fTexas, 407/7/fTexas, 414/5/fIdaho, 417/5/fMichigan, 419.5/5/fOhio, 424/5/fIdaho,
  436/4/fMinnesota, 436/5/fMinnesota, 448/4/fNorthCarolina, 448/5/fNorthCarolina,
  448/6/fNorthCarolina, 458/4/fTexas, 458/5/fTexas, 461/4/fKansas, 467.3/4/fSouthDakota,
  482/3/fUtah, 489.5/3/fIdaho, 492/3/fIdaho, 500/3/fIdaho, 505/2/fCalifornia, 505/3/fCalifornia,
  517.3/3/fCalifornia, 521.7/3/fCalifornia, 525/2/fCalifornia, 527/3/fCalifornia,
  533/2/fCalifornia, 535/3/fCalifornia, 537/2/fCalifornia, 542/2/fCalifornia,
  545/3/fCalifornia, 547/3/fCalifornia, 512/2/fCalifornia, 514.5/2/fCalifornia,
  517/2/fCalifornia, 484/3/fSouthDakota, 444/3/fKansas, 465/3/fMichigan, 474/3/fIdaho}
  \fill[\c] (\fc{\k},\y) circle (1.5);
\foreach \y in {490,493,...,546} \fill[fCalifornia] (\fc{1},\y) circle (1.4);
\foreach \y/\k/\c in {401.5/5/fColorado, 403.5/5/fColorado, 401.5/6/fUSA, 431.5/3/fColorado,
  433/4/fColorado, 441.7/4/fUSA, 451.7/3/fColorado, 455/4/fUSA, 470/2/fColorado,
  472.7/4/fUSA, 429/3/fColorado, 440/3/fColorado, 462/3/fUSA, 455/3/fColorado}
  \filldraw[fill=white, draw=\c, line width=0.5pt] (\fc{\k},\y) circle (1.4);
\end{tikzpicture}
\end{document}
